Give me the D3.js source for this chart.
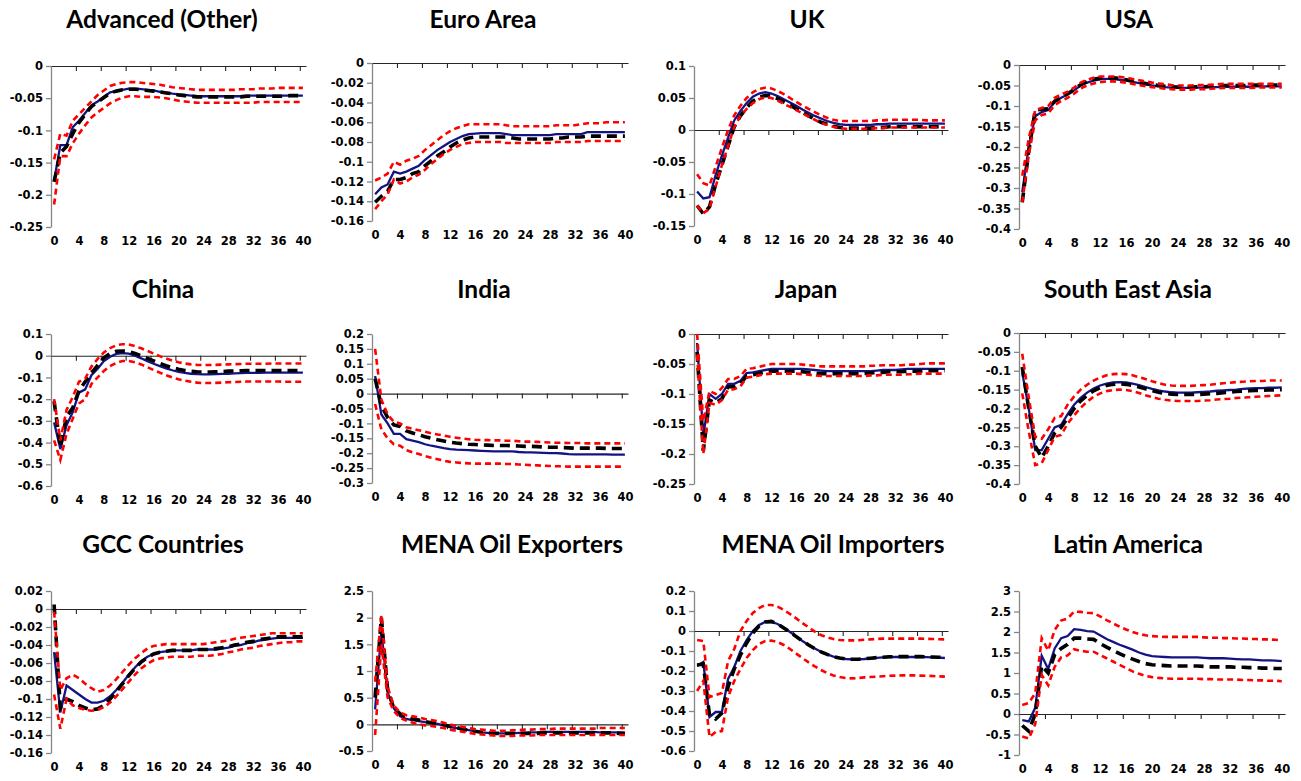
<!DOCTYPE html>
<html>
<head>
<meta charset="utf-8">
<script src="https://d3js.org/d3.v7.min.js"></script>
<style>
  body { margin: 0; background: #fff; }
  svg { display: block; }
  .title { font-family: Lato, "Open Sans", sans-serif; font-weight: bold; font-size: 24.5px; fill: #000; }
  .tick text { font-family: "DejaVu Sans", sans-serif; font-weight: bold; font-size: 11.5px; fill: #000; }
</style>
</head>
<body>
<div id="chart"></div>
<script>
// horizons 0..40
const steps = d3.range(0, 41);
const xLabels = d3.range(0, 41, 4);

const titles = ["Advanced (Other)", "Euro Area", "UK", "USA",
  "China", "India", "Japan", "South East Asia",
  "GCC Countries", "MENA Oil Exporters", "MENA Oil Importers", "Latin America"];

const yDomains = [[-0.25, 0], [-0.16, 0], [-0.15, 0.1], [-0.4, 0],
  [-0.6, 0.1], [-0.3, 0.2], [-0.25, 0], [-0.4, 0],
  [-0.16, 0.02], [-0.5, 2.5], [-0.6, 0.2], [-1, 3]];
const yTickSteps = [0.05, 0.02, 0.05, 0.05, 0.1, 0.05, 0.05, 0.05, 0.02, 0.5, 0.1, 0.5];

// Advanced (Other)
const advSolid = [-0.178,-0.123,-0.123,-0.095,-0.085,-0.073,-0.061,-0.055,-0.048,-0.041,
  -0.039,-0.037,-0.035,-0.035,-0.036,-0.037,-0.038,-0.040,-0.041,-0.043,
  -0.044,-0.045,-0.046,-0.047,-0.047,-0.047,-0.047,-0.047,-0.047,-0.047,
  -0.047,-0.046,-0.046,-0.046,-0.046,-0.046,-0.046,-0.046,-0.046,-0.046,-0.046];
const advDashed = [-0.180,-0.135,-0.125,-0.105,-0.088,-0.075,-0.063,-0.056,-0.049,-0.042,
  -0.039,-0.037,-0.036,-0.036,-0.037,-0.038,-0.039,-0.040,-0.042,-0.043,
  -0.045,-0.046,-0.047,-0.048,-0.048,-0.048,-0.048,-0.048,-0.048,-0.048,
  -0.048,-0.047,-0.047,-0.047,-0.047,-0.047,-0.047,-0.047,-0.046,-0.046,-0.046];
const advHi = [-0.145,-0.105,-0.108,-0.085,-0.075,-0.065,-0.055,-0.045,-0.038,-0.031,
  -0.028,-0.026,-0.025,-0.025,-0.026,-0.027,-0.028,-0.029,-0.031,-0.033,
  -0.034,-0.035,-0.036,-0.037,-0.037,-0.037,-0.037,-0.037,-0.037,-0.037,
  -0.036,-0.036,-0.036,-0.035,-0.035,-0.035,-0.034,-0.034,-0.034,-0.034,-0.034];
const advLo = [-0.215,-0.140,-0.140,-0.120,-0.105,-0.092,-0.080,-0.072,-0.065,-0.058,
  -0.053,-0.049,-0.047,-0.047,-0.048,-0.048,-0.048,-0.049,-0.050,-0.052,
  -0.054,-0.055,-0.056,-0.057,-0.057,-0.057,-0.057,-0.057,-0.057,-0.057,
  -0.057,-0.057,-0.057,-0.056,-0.056,-0.056,-0.056,-0.056,-0.056,-0.056,-0.056];

// Euro Area
const euroSolid = [-0.133,-0.126,-0.123,-0.110,-0.112,-0.110,-0.107,-0.104,-0.098,-0.093,
  -0.088,-0.084,-0.080,-0.077,-0.074,-0.072,-0.0715,-0.071,-0.071,-0.071,
  -0.071,-0.072,-0.073,-0.073,-0.073,-0.073,-0.073,-0.073,-0.073,-0.072,
  -0.072,-0.072,-0.072,-0.072,-0.070,-0.070,-0.070,-0.070,-0.070,-0.070,-0.070];
const euroDashed = [-0.141,-0.135,-0.130,-0.118,-0.118,-0.116,-0.112,-0.110,-0.104,-0.099,
  -0.094,-0.090,-0.085,-0.081,-0.078,-0.076,-0.075,-0.075,-0.075,-0.075,
  -0.075,-0.075,-0.076,-0.077,-0.077,-0.077,-0.077,-0.077,-0.077,-0.076,
  -0.076,-0.075,-0.075,-0.075,-0.074,-0.074,-0.074,-0.074,-0.074,-0.074,-0.074];
const euroHi = [-0.119,-0.116,-0.112,-0.100,-0.103,-0.099,-0.097,-0.094,-0.088,-0.083,
  -0.078,-0.073,-0.069,-0.066,-0.064,-0.062,-0.062,-0.062,-0.062,-0.062,
  -0.062,-0.063,-0.064,-0.064,-0.064,-0.064,-0.064,-0.064,-0.064,-0.063,
  -0.063,-0.063,-0.063,-0.062,-0.061,-0.061,-0.061,-0.060,-0.060,-0.060,-0.060];
const euroLo = [-0.148,-0.140,-0.133,-0.118,-0.122,-0.120,-0.116,-0.113,-0.108,-0.102,
  -0.097,-0.092,-0.088,-0.085,-0.082,-0.081,-0.080,-0.080,-0.080,-0.080,
  -0.080,-0.081,-0.081,-0.081,-0.081,-0.081,-0.081,-0.081,-0.081,-0.080,
  -0.080,-0.080,-0.080,-0.080,-0.079,-0.079,-0.079,-0.079,-0.079,-0.079,-0.079];

// UK
const ukSolid = [-0.096,-0.107,-0.105,-0.070,-0.040,-0.012,0.015,0.030,0.042,0.052,
  0.057,0.059,0.057,0.053,0.048,0.043,0.038,0.032,0.027,0.022,
  0.018,0.014,0.011,0.009,0.008,0.008,0.008,0.008,0.008,0.009,
  0.009,0.010,0.010,0.010,0.010,0.010,0.010,0.010,0.010,0.010,0.010];
const ukDashed = [-0.118,-0.131,-0.120,-0.085,-0.055,-0.025,0.005,0.022,0.035,0.045,
  0.051,0.054,0.053,0.049,0.044,0.039,0.033,0.028,0.022,0.017,
  0.012,0.009,0.006,0.004,0.003,0.003,0.003,0.003,0.003,0.004,
  0.004,0.005,0.005,0.005,0.005,0.005,0.005,0.005,0.005,0.005,0.005];
const ukHi = [-0.069,-0.083,-0.087,-0.057,-0.028,0.000,0.023,0.038,0.050,0.059,
  0.064,0.066,0.065,0.061,0.056,0.050,0.044,0.038,0.033,0.028,
  0.023,0.019,0.016,0.014,0.014,0.014,0.014,0.014,0.014,0.015,
  0.015,0.016,0.016,0.016,0.016,0.016,0.016,0.015,0.015,0.015,0.015];
const ukLo = [-0.118,-0.130,-0.123,-0.088,-0.055,-0.025,0.005,0.022,0.033,0.042,
  0.048,0.051,0.050,0.046,0.041,0.036,0.031,0.026,0.021,0.016,
  0.011,0.008,0.005,0.003,0.002,0.002,0.002,0.002,0.002,0.003,
  0.003,0.004,0.004,0.004,0.004,0.004,0.004,0.004,0.004,0.004,0.004];

// USA
const usaSolid = [-0.310,-0.200,-0.125,-0.115,-0.110,-0.090,-0.080,-0.072,-0.062,-0.050,
  -0.043,-0.038,-0.035,-0.034,-0.034,-0.036,-0.038,-0.041,-0.044,-0.047,
  -0.050,-0.052,-0.054,-0.055,-0.056,-0.056,-0.056,-0.055,-0.055,-0.054,
  -0.054,-0.053,-0.053,-0.053,-0.053,-0.053,-0.052,-0.052,-0.052,-0.052,-0.052];
const usaDashed = [-0.335,-0.210,-0.110,-0.108,-0.107,-0.088,-0.080,-0.070,-0.060,-0.048,
  -0.040,-0.035,-0.032,-0.031,-0.031,-0.033,-0.036,-0.039,-0.042,-0.045,
  -0.048,-0.050,-0.052,-0.053,-0.054,-0.054,-0.054,-0.053,-0.053,-0.052,
  -0.051,-0.050,-0.050,-0.050,-0.050,-0.050,-0.049,-0.049,-0.049,-0.049,-0.049];
const usaHi = [-0.270,-0.180,-0.110,-0.105,-0.100,-0.080,-0.072,-0.065,-0.055,-0.043,
  -0.036,-0.031,-0.028,-0.028,-0.028,-0.029,-0.031,-0.034,-0.037,-0.040,
  -0.043,-0.045,-0.047,-0.049,-0.050,-0.050,-0.050,-0.049,-0.049,-0.048,
  -0.047,-0.046,-0.046,-0.046,-0.046,-0.046,-0.046,-0.046,-0.046,-0.046,-0.046];
const usaLo = [-0.335,-0.220,-0.135,-0.122,-0.118,-0.098,-0.088,-0.080,-0.070,-0.057,
  -0.050,-0.045,-0.042,-0.040,-0.040,-0.041,-0.043,-0.046,-0.049,-0.052,
  -0.054,-0.056,-0.058,-0.059,-0.060,-0.060,-0.060,-0.059,-0.059,-0.058,
  -0.057,-0.056,-0.056,-0.056,-0.056,-0.056,-0.055,-0.055,-0.055,-0.055,-0.055];

// China
const chinaSolid = [-0.307,-0.430,-0.320,-0.260,-0.170,-0.155,-0.090,-0.060,-0.025,-0.005,
  0.008,0.012,0.010,0.000,-0.012,-0.025,-0.037,-0.048,-0.058,-0.067,
  -0.074,-0.079,-0.083,-0.085,-0.086,-0.086,-0.085,-0.084,-0.083,-0.081,
  -0.080,-0.079,-0.079,-0.079,-0.078,-0.078,-0.078,-0.078,-0.078,-0.078,-0.078];
const chinaDashed = [-0.210,-0.420,-0.280,-0.240,-0.160,-0.120,-0.080,-0.045,-0.010,0.010,
  0.020,0.022,0.020,0.010,0.000,-0.012,-0.024,-0.036,-0.046,-0.055,
  -0.062,-0.068,-0.072,-0.074,-0.075,-0.075,-0.074,-0.073,-0.071,-0.070,
  -0.069,-0.068,-0.068,-0.068,-0.068,-0.068,-0.068,-0.068,-0.068,-0.068,-0.068];
const chinaHi = [-0.200,-0.390,-0.250,-0.190,-0.120,-0.105,-0.050,-0.015,0.015,0.035,
  0.048,0.053,0.052,0.044,0.034,0.022,0.010,-0.002,-0.013,-0.022,
  -0.030,-0.036,-0.040,-0.042,-0.043,-0.043,-0.042,-0.041,-0.040,-0.039,
  -0.038,-0.037,-0.037,-0.037,-0.037,-0.036,-0.036,-0.036,-0.036,-0.036,-0.036];
const chinaLo = [-0.390,-0.480,-0.360,-0.290,-0.220,-0.200,-0.130,-0.100,-0.070,-0.048,
  -0.033,-0.024,-0.024,-0.030,-0.040,-0.053,-0.066,-0.078,-0.090,-0.100,
  -0.108,-0.115,-0.120,-0.124,-0.126,-0.126,-0.125,-0.124,-0.122,-0.121,
  -0.120,-0.119,-0.119,-0.119,-0.119,-0.119,-0.119,-0.120,-0.120,-0.120,-0.120];

// India
const indiaSolid = [0.059,-0.070,-0.100,-0.135,-0.135,-0.153,-0.158,-0.163,-0.170,-0.175,
  -0.179,-0.183,-0.186,-0.188,-0.189,-0.190,-0.191,-0.192,-0.193,-0.194,
  -0.194,-0.194,-0.194,-0.196,-0.197,-0.197,-0.198,-0.199,-0.200,-0.200,
  -0.201,-0.203,-0.204,-0.204,-0.204,-0.204,-0.204,-0.204,-0.205,-0.205,-0.205];
const indiaDashed = [0.050,-0.040,-0.080,-0.105,-0.110,-0.125,-0.132,-0.138,-0.145,-0.150,
  -0.155,-0.159,-0.163,-0.166,-0.168,-0.170,-0.171,-0.172,-0.173,-0.174,
  -0.174,-0.174,-0.175,-0.176,-0.177,-0.177,-0.178,-0.179,-0.180,-0.180,
  -0.181,-0.182,-0.183,-0.183,-0.183,-0.183,-0.183,-0.184,-0.184,-0.184,-0.184];
const indiaHi = [0.150,-0.020,-0.070,-0.095,-0.100,-0.113,-0.118,-0.123,-0.128,-0.133,
  -0.137,-0.141,-0.145,-0.148,-0.151,-0.153,-0.155,-0.156,-0.156,-0.157,
  -0.157,-0.158,-0.158,-0.160,-0.161,-0.161,-0.162,-0.163,-0.164,-0.165,
  -0.165,-0.166,-0.166,-0.166,-0.167,-0.167,-0.167,-0.167,-0.167,-0.167,-0.167];
const indiaLo = [-0.035,-0.120,-0.150,-0.170,-0.175,-0.190,-0.197,-0.203,-0.210,-0.215,
  -0.220,-0.225,-0.229,-0.231,-0.233,-0.234,-0.235,-0.235,-0.235,-0.235,
  -0.235,-0.236,-0.236,-0.238,-0.239,-0.240,-0.241,-0.242,-0.243,-0.244,
  -0.244,-0.245,-0.245,-0.245,-0.245,-0.245,-0.245,-0.245,-0.245,-0.245,-0.245];

// Japan
const japanSolid = [-0.015,-0.170,-0.100,-0.108,-0.100,-0.083,-0.083,-0.078,-0.065,-0.064,
  -0.062,-0.060,-0.058,-0.058,-0.058,-0.058,-0.058,-0.058,-0.059,-0.060,
  -0.061,-0.062,-0.062,-0.062,-0.062,-0.062,-0.062,-0.062,-0.062,-0.061,
  -0.060,-0.060,-0.060,-0.059,-0.058,-0.058,-0.058,-0.058,-0.058,-0.058,-0.058];
const japanDashed = [-0.030,-0.195,-0.110,-0.115,-0.108,-0.088,-0.088,-0.083,-0.070,-0.068,
  -0.066,-0.063,-0.062,-0.062,-0.062,-0.062,-0.062,-0.063,-0.064,-0.065,
  -0.066,-0.066,-0.066,-0.066,-0.066,-0.066,-0.066,-0.066,-0.065,-0.064,
  -0.064,-0.063,-0.063,-0.063,-0.062,-0.062,-0.062,-0.061,-0.061,-0.061,-0.061];
const japanHi = [0.000,-0.145,-0.095,-0.100,-0.090,-0.075,-0.075,-0.070,-0.058,-0.057,
  -0.055,-0.052,-0.050,-0.050,-0.050,-0.050,-0.050,-0.051,-0.052,-0.053,
  -0.054,-0.054,-0.054,-0.054,-0.054,-0.054,-0.054,-0.054,-0.053,-0.053,
  -0.052,-0.052,-0.052,-0.052,-0.051,-0.051,-0.050,-0.049,-0.049,-0.049,-0.049];
const japanLo = [-0.035,-0.200,-0.115,-0.118,-0.110,-0.093,-0.092,-0.087,-0.073,-0.071,
  -0.069,-0.067,-0.066,-0.066,-0.066,-0.066,-0.066,-0.067,-0.068,-0.069,
  -0.070,-0.070,-0.070,-0.070,-0.070,-0.070,-0.070,-0.070,-0.069,-0.069,
  -0.068,-0.068,-0.068,-0.068,-0.067,-0.067,-0.066,-0.066,-0.066,-0.066,-0.066];

// South East Asia
const seaSolid = [-0.105,-0.200,-0.310,-0.310,-0.280,-0.250,-0.243,-0.215,-0.190,-0.172,
  -0.158,-0.147,-0.139,-0.134,-0.131,-0.130,-0.131,-0.134,-0.138,-0.143,
  -0.148,-0.152,-0.155,-0.157,-0.158,-0.158,-0.158,-0.157,-0.156,-0.155,
  -0.153,-0.152,-0.151,-0.150,-0.148,-0.147,-0.146,-0.146,-0.145,-0.145,-0.144];
const seaDashed = [-0.090,-0.200,-0.300,-0.330,-0.300,-0.265,-0.250,-0.225,-0.200,-0.180,
  -0.165,-0.153,-0.145,-0.139,-0.136,-0.135,-0.136,-0.139,-0.143,-0.148,
  -0.153,-0.157,-0.160,-0.162,-0.163,-0.163,-0.163,-0.163,-0.162,-0.161,
  -0.160,-0.158,-0.157,-0.155,-0.154,-0.153,-0.152,-0.152,-0.151,-0.151,-0.150];
const seaHi = [-0.055,-0.170,-0.275,-0.280,-0.255,-0.225,-0.220,-0.190,-0.168,-0.150,
  -0.137,-0.126,-0.118,-0.112,-0.109,-0.108,-0.109,-0.112,-0.117,-0.122,
  -0.128,-0.133,-0.137,-0.139,-0.140,-0.140,-0.140,-0.139,-0.138,-0.137,
  -0.135,-0.133,-0.132,-0.130,-0.129,-0.128,-0.127,-0.127,-0.126,-0.126,-0.126];
const seaLo = [-0.160,-0.260,-0.350,-0.345,-0.310,-0.275,-0.270,-0.240,-0.218,-0.198,
  -0.182,-0.169,-0.160,-0.154,-0.151,-0.150,-0.151,-0.154,-0.159,-0.165,
  -0.170,-0.174,-0.177,-0.179,-0.180,-0.180,-0.180,-0.180,-0.179,-0.178,
  -0.176,-0.175,-0.174,-0.172,-0.171,-0.170,-0.169,-0.168,-0.167,-0.166,-0.165];

// GCC Countries
const gccSolid = [-0.048,-0.115,-0.085,-0.090,-0.095,-0.100,-0.104,-0.104,-0.102,-0.097,
  -0.090,-0.082,-0.073,-0.065,-0.058,-0.053,-0.050,-0.048,-0.047,-0.046,
  -0.046,-0.046,-0.046,-0.045,-0.045,-0.045,-0.045,-0.044,-0.043,-0.041,
  -0.040,-0.038,-0.037,-0.035,-0.034,-0.033,-0.032,-0.032,-0.032,-0.032,-0.032];
const gccDashed = [0.005,-0.110,-0.100,-0.103,-0.107,-0.110,-0.112,-0.111,-0.107,-0.100,
  -0.092,-0.083,-0.074,-0.066,-0.059,-0.054,-0.050,-0.048,-0.047,-0.046,
  -0.046,-0.046,-0.046,-0.045,-0.045,-0.045,-0.044,-0.043,-0.042,-0.040,
  -0.039,-0.037,-0.036,-0.034,-0.033,-0.032,-0.031,-0.031,-0.031,-0.031,-0.031];
const gccHi = [-0.003,-0.090,-0.077,-0.073,-0.077,-0.083,-0.088,-0.092,-0.090,-0.085,
  -0.078,-0.070,-0.062,-0.055,-0.049,-0.044,-0.041,-0.040,-0.039,-0.039,
  -0.039,-0.039,-0.039,-0.039,-0.039,-0.038,-0.037,-0.036,-0.035,-0.033,
  -0.032,-0.031,-0.030,-0.029,-0.028,-0.027,-0.027,-0.027,-0.027,-0.027,-0.027];
const gccLo = [-0.095,-0.133,-0.100,-0.107,-0.110,-0.112,-0.113,-0.112,-0.109,-0.104,
  -0.097,-0.089,-0.081,-0.073,-0.066,-0.061,-0.057,-0.055,-0.054,-0.053,
  -0.053,-0.053,-0.053,-0.052,-0.052,-0.052,-0.051,-0.050,-0.048,-0.047,
  -0.045,-0.044,-0.043,-0.041,-0.040,-0.039,-0.038,-0.037,-0.037,-0.036,-0.036];

// MENA Oil Exporters
const menaExSolid = [0.28,1.75,0.60,0.30,0.15,0.10,0.08,0.06,0.04,0.03,
  0.01,-0.02,-0.05,-0.07,-0.09,-0.11,-0.13,-0.15,-0.16,-0.17,
  -0.17,-0.17,-0.17,-0.16,-0.16,-0.15,-0.15,-0.14,-0.14,-0.14,
  -0.14,-0.14,-0.14,-0.14,-0.14,-0.14,-0.15,-0.15,-0.15,-0.15,-0.16];
const menaExDashed = [0.50,2.00,0.65,0.30,0.20,0.12,0.10,0.08,0.05,0.03,
  0.02,-0.01,-0.04,-0.06,-0.09,-0.11,-0.13,-0.15,-0.16,-0.17,
  -0.17,-0.17,-0.17,-0.17,-0.17,-0.17,-0.17,-0.16,-0.16,-0.16,
  -0.16,-0.16,-0.16,-0.16,-0.16,-0.16,-0.16,-0.16,-0.16,-0.17,-0.17];
const menaExHi = [0.80,2.05,0.70,0.35,0.22,0.17,0.15,0.13,0.10,0.08,
  0.06,0.03,0.00,-0.03,-0.05,-0.07,-0.09,-0.10,-0.11,-0.12,
  -0.12,-0.12,-0.11,-0.11,-0.10,-0.10,-0.09,-0.09,-0.09,-0.08,
  -0.08,-0.08,-0.08,-0.08,-0.08,-0.08,-0.07,-0.07,-0.07,-0.07,-0.07];
const menaExLo = [-0.20,1.50,0.50,0.25,0.12,0.07,0.03,0.00,-0.02,-0.03,
  -0.05,-0.07,-0.10,-0.12,-0.14,-0.16,-0.18,-0.19,-0.20,-0.21,
  -0.22,-0.22,-0.22,-0.21,-0.21,-0.21,-0.20,-0.20,-0.20,-0.20,
  -0.20,-0.20,-0.20,-0.20,-0.20,-0.20,-0.20,-0.20,-0.20,-0.20,-0.20];

// MENA Oil Importers
const menaImSolid = [-0.175,-0.155,-0.430,-0.405,-0.405,-0.240,-0.180,-0.100,-0.045,0.000,
  0.030,0.045,0.045,0.035,0.015,-0.005,-0.027,-0.050,-0.070,-0.088,
  -0.104,-0.117,-0.128,-0.135,-0.140,-0.142,-0.142,-0.140,-0.137,-0.134,
  -0.132,-0.130,-0.130,-0.130,-0.130,-0.130,-0.130,-0.131,-0.132,-0.133,-0.135];
const menaImDashed = [-0.170,-0.165,-0.420,-0.440,-0.410,-0.280,-0.190,-0.120,-0.060,-0.010,
  0.025,0.045,0.048,0.035,0.015,-0.005,-0.028,-0.050,-0.070,-0.088,
  -0.104,-0.117,-0.128,-0.135,-0.140,-0.141,-0.141,-0.139,-0.136,-0.133,
  -0.131,-0.129,-0.128,-0.128,-0.128,-0.128,-0.128,-0.129,-0.130,-0.131,-0.133];
const menaImHi = [-0.045,-0.050,-0.330,-0.320,-0.310,-0.150,-0.090,0.000,0.050,0.090,
  0.115,0.130,0.130,0.122,0.105,0.085,0.063,0.040,0.018,-0.003,
  -0.020,-0.032,-0.040,-0.045,-0.047,-0.047,-0.046,-0.044,-0.042,-0.040,
  -0.038,-0.038,-0.038,-0.038,-0.038,-0.038,-0.038,-0.039,-0.040,-0.041,-0.042];
const menaImLo = [-0.300,-0.250,-0.530,-0.505,-0.500,-0.330,-0.250,-0.190,-0.135,-0.095,
  -0.065,-0.050,-0.048,-0.055,-0.070,-0.090,-0.113,-0.135,-0.157,-0.177,
  -0.195,-0.210,-0.222,-0.230,-0.235,-0.237,-0.235,-0.232,-0.230,-0.228,
  -0.226,-0.224,-0.223,-0.222,-0.222,-0.222,-0.223,-0.224,-0.225,-0.227,-0.228];

// Latin America
const latamSolid = [-0.15,-0.18,0.15,1.42,1.10,1.60,1.85,1.90,2.07,2.05,
  2.02,2.01,1.92,1.83,1.76,1.69,1.63,1.57,1.50,1.45,
  1.41,1.40,1.39,1.38,1.38,1.38,1.38,1.38,1.37,1.36,
  1.36,1.36,1.35,1.34,1.33,1.33,1.32,1.31,1.31,1.30,1.29];
const latamDashed = [-0.28,-0.42,0.00,1.18,1.00,1.45,1.60,1.70,1.85,1.85,
  1.83,1.82,1.72,1.63,1.55,1.47,1.40,1.34,1.28,1.23,
  1.20,1.19,1.18,1.17,1.17,1.17,1.17,1.17,1.16,1.15,
  1.15,1.15,1.15,1.14,1.14,1.13,1.13,1.12,1.12,1.11,1.11];
const latamHi = [0.22,0.27,0.50,1.85,1.55,2.05,2.28,2.33,2.50,2.49,
  2.47,2.46,2.38,2.29,2.21,2.13,2.06,2.00,1.95,1.92,
  1.90,1.89,1.88,1.88,1.88,1.88,1.88,1.88,1.87,1.86,
  1.86,1.85,1.85,1.84,1.84,1.83,1.83,1.82,1.82,1.81,1.80];
const latamLo = [-0.55,-0.60,-0.25,0.95,0.70,1.15,1.38,1.43,1.58,1.54,
  1.52,1.52,1.44,1.36,1.28,1.20,1.12,1.04,0.98,0.93,
  0.90,0.88,0.87,0.86,0.86,0.86,0.86,0.86,0.85,0.85,
  0.84,0.84,0.84,0.84,0.83,0.83,0.82,0.82,0.81,0.81,0.80];

const solidSeries = [advSolid, euroSolid, ukSolid, usaSolid, chinaSolid, indiaSolid,
  japanSolid, seaSolid, gccSolid, menaExSolid, menaImSolid, latamSolid];
const dashedSeries = [advDashed, euroDashed, ukDashed, usaDashed, chinaDashed, indiaDashed,
  japanDashed, seaDashed, gccDashed, menaExDashed, menaImDashed, latamDashed];
const hiSeries = [advHi, euroHi, ukHi, usaHi, chinaHi, indiaHi,
  japanHi, seaHi, gccHi, menaExHi, menaImHi, latamHi];
const loSeries = [advLo, euroLo, ukLo, usaLo, chinaLo, indiaLo,
  japanLo, seaLo, gccLo, menaExLo, menaImLo, latamLo];

// layout (pixels): plot box per column / per panel, title anchor
const colLeft = [51, 372, 694, 1019];
const colRight = [306, 628, 948, 1285];
const plotTop = [66, 63, 66, 65, 334, 334, 334, 333, 591, 591, 591, 591];
const plotBottom = [227, 221, 226, 229, 486, 483, 484, 484, 753, 751, 751, 755];
const titleX = [162, 483, 807, 1129, 163, 484, 806, 1128, 163, 512, 833, 1128];
const titleY = [18, 288, 543];

const svg = d3.select("#chart").append("svg")
  .attr("width", 1301)
  .attr("height", 781);

const fmt = v => String(+v.toFixed(4));

/**
* drawPanel -> one small chart: axes, zero line, four response lines
* @param{Number} (i) -> panel index
*/
function drawPanel(i) {
  const col = i % 4, row = Math.floor(i / 4);
  const left = colLeft[col], right = colRight[col];
  const top = plotTop[i], bottom = plotBottom[i];
  const dom = yDomains[i];

  const x = d3.scaleLinear().domain([-0.5, 40.5]).range([left, right]);
  const y = d3.scaleLinear().domain(dom).range([bottom, top]);

  const g = svg.append("g");

  g.append("text")
    .attr("class", "title")
    .attr("x", titleX[i])
    .attr("y", titleY[row])
    .attr("text-anchor", "middle")
    .attr("dominant-baseline", "central")
    .text(titles[i]);

  // y axis
  const yTicks = d3.range(Math.round((dom[1] - dom[0]) / yTickSteps[i]) + 1)
    .map(k => dom[0] + k * yTickSteps[i]);
  const yAxis = g.append("g")
    .attr("transform", "translate(" + left + ",0)")
    .call(d3.axisLeft(y).tickValues(yTicks).tickSize(5).tickSizeOuter(0)
      .tickPadding(3).tickFormat(fmt));
  yAxis.selectAll("path, line").attr("stroke", "#868686").attr("stroke-width", 1.3);

  // horizontal axis at zero with tick marks between categories
  const bounds = d3.range(3.5, 40, 4);
  const xAxis = g.append("g")
    .attr("transform", "translate(0," + y(0) + ")")
    .call(d3.axisBottom(x).tickValues(bounds).tickSize(5).tickSizeOuter(0).tickFormat(""));
  xAxis.selectAll("path, line").attr("stroke", "#262626").attr("stroke-width", 1.1);

  // category labels at the bottom
  const xLab = g.append("g")
    .attr("transform", "translate(0," + bottom + ")")
    .call(d3.axisBottom(x).tickValues(xLabels).tickSize(0).tickPadding(10));
  xLab.select(".domain").remove();

  const line = d3.line().x((d, k) => x(steps[k])).y(d => y(d));

  g.append("path").datum(solidSeries[i])
    .attr("d", line).attr("fill", "none")
    .attr("stroke", "#131384").attr("stroke-width", 2.3);
  g.append("path").datum(dashedSeries[i])
    .attr("d", line).attr("fill", "none")
    .attr("stroke", "#000").attr("stroke-width", 3.6)
    .attr("stroke-dasharray", "10,6");
  [hiSeries[i], loSeries[i]].forEach(s => {
    g.append("path").datum(s)
      .attr("d", line).attr("fill", "none")
      .attr("stroke", "#ff0000").attr("stroke-width", 2.6)
      .attr("stroke-dasharray", "6,4");
  });
}

titles.forEach((t, i) => drawPanel(i));
</script>
</body>
</html>
